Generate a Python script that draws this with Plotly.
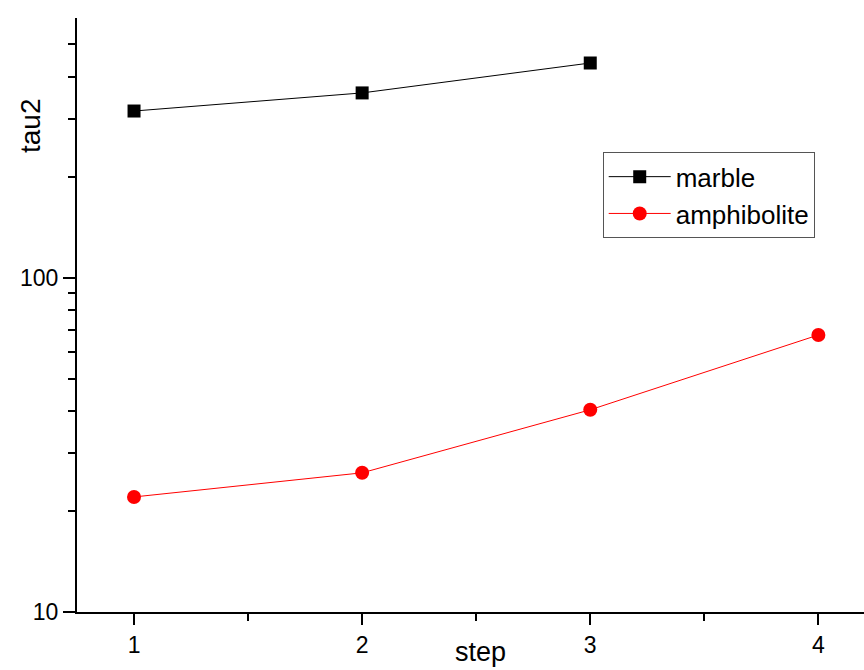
import plotly.graph_objects as go
import numpy as np

steps = [1, 2, 3, 4]
marble_steps = [1, 2, 3]
marble_tau2 = [316, 358, 440]
amphibolite_tau2 = [22.1, 26.1, 40.3, 67.5]

y_minor = [20, 30, 40, 50, 60, 70, 80, 90, 200, 300, 400, 500]
x_minor = [1.5, 2.5, 3.5]

FONT = "Liberation Sans, Arial, sans-serif"

fig = go.Figure()
fig.add_trace(go.Scatter(
    x=marble_steps, y=marble_tau2, name="marble", mode="lines+markers",
    line=dict(color="black", width=1),
    marker=dict(symbol="square", size=13, color="black"),
))
fig.add_trace(go.Scatter(
    x=steps, y=amphibolite_tau2, name="amphibolite", mode="lines+markers",
    line=dict(color="red", width=1),
    marker=dict(symbol="circle", size=14, color="red"),
))

fig.update_layout(
    width=864, height=670,
    margin=dict(l=77, r=0, t=18, b=58),
    plot_bgcolor="white", paper_bgcolor="white",
    font=dict(family=FONT, color="black", size=23),
    showlegend=True,
    legend=dict(
        x=0.668, y=0.774, xanchor="left", yanchor="top",
        bordercolor="#555555", borderwidth=1, bgcolor="white",
        font=dict(size=26, family=FONT), itemwidth=62,
        tracegroupgap=0,
    ),
    xaxis=dict(
        range=[0.75, 4.2], tickmode="array", tickvals=steps,
        ticks="outside", ticklen=11, tickwidth=2, tickcolor="black",
        showline=True, linewidth=2, linecolor="black",
        showgrid=False, zeroline=False,
        tickfont=dict(size=23),
        minor=dict(tickmode="array", tickvals=x_minor, ticks="outside",
                   ticklen=7, tickwidth=2, tickcolor="black", showgrid=False),
    ),
    yaxis=dict(
        type="log", range=[1, np.log10(600)],
        tickmode="array", tickvals=[10, 100], ticktext=["10", "100"],
        ticks="outside", ticklen=12, tickwidth=2, tickcolor="black",
        showline=True, linewidth=2, linecolor="black",
        showgrid=False, zeroline=False,
        tickfont=dict(size=23),
        minor=dict(tickmode="array", tickvals=y_minor, ticks="outside",
                   ticklen=7, tickwidth=2, tickcolor="black", showgrid=False),
    ),
)

# axis titles placed at pixel positions (converted to paper coordinates)
pw, ph = 864 - 77 - 0, 670 - 18 - 58
def to_paper(px, py):
    return (px - 77) / pw, (670 - 58 - py) / ph

tx, ty = to_paper(31, 126)
sx, sy = to_paper(481, 652)
fig.add_annotation(text="tau2", x=tx, y=ty, xref="paper", yref="paper",
                   showarrow=False, textangle=-90, font=dict(size=28),
                   xanchor="center", yanchor="middle")
fig.add_annotation(text="step", x=sx, y=sy, xref="paper", yref="paper",
                   showarrow=False, font=dict(size=27),
                   xanchor="center", yanchor="middle")

fig.write_html("out.html")
